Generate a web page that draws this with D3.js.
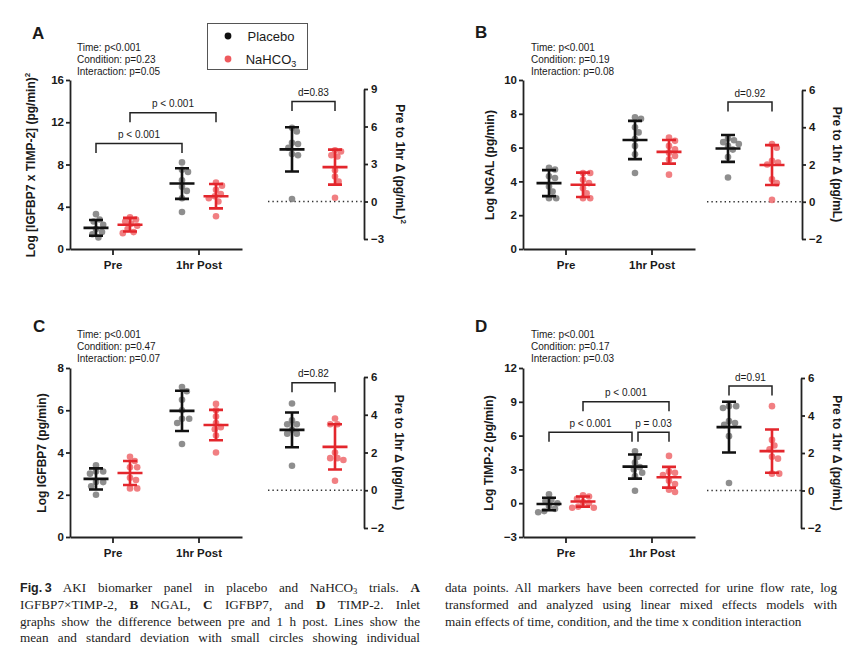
<!DOCTYPE html>
<html>
<head>
<meta charset="utf-8">
<script src="https://cdn.jsdelivr.net/npm/d3@7"></script>
<style>
body { margin: 0; background: #fff; position: relative; width: 853px; height: 653px; overflow: hidden; }
svg text { font-family: "Liberation Sans", Arial, sans-serif; fill: #1a1a1a; }
.axis path, .axis line { stroke: #222; stroke-width: 1.8px; }
.axis text { font-size: 11.5px; font-weight: bold; fill: #1a1a1a; }
.cap { position: absolute; font-family: "Liberation Serif", "Times New Roman", serif; font-size: 13.2px; color: #222; line-height: 16.8px; }
.cap .ln { text-align: justify; text-align-last: justify; height: 16.8px; }
.cap .last { text-align: left; text-align-last: left; }
.cap .fig { font-family: "Liberation Sans Narrow", "Liberation Sans", Arial, sans-serif; font-weight: bold; font-size: 12.5px; }
.cap sub { font-size: 8.5px; vertical-align: -2px; line-height: 0; }
</style>
</head>
<body>
<script>
var groups = ["Pre", "1hr Post"];
var conditions = ["Placebo", "NaHCO3"];

// A: IGFBP7 x TIMP-2
var aPoints = [
  [3.3, 2.8, 2.6, 2.3, 1.9, 1.6, 1.4, 1.1],
  [3.0, 2.8, 2.6, 2.4, 2.2, 1.9, 1.6, 1.5],
  [8.2, 7.5, 7.3, 6.5, 5.9, 5.5, 4.8, 3.5],
  [6.3, 6.0, 5.6, 5.2, 5.0, 4.8, 4.5, 3.1]
];
var aMean = [2.0, 2.3, 6.2, 5.0];
var aSd = [0.75, 0.65, 1.45, 1.15];
var aDelta = [[5.9, 5.6, 4.7, 4.6, 4.3, 3.8, 3.7, 0.2], [4.1, 4.0, 3.7, 3.6, 2.5, 2.0, 1.6, 0.3]];
var aDeltaMean = [4.17, 2.75];
var aDeltaSd = [1.77, 1.4];
var aTicks = [0, 4, 8, 12, 16];
var aDeltaTicks = [-3, 0, 3, 6, 9];
var aStats = ["Time: p<0.001", "Condition: p=0.23", "Interaction: p=0.05"];

// B: NGAL
var bPoints = [
  [4.8, 4.7, 4.3, 4.2, 3.7, 3.4, 3.0, 3.0],
  [4.5, 4.5, 4.1, 3.9, 3.6, 3.3, 3.0, 3.0],
  [7.8, 7.7, 7.2, 6.9, 6.5, 6.1, 5.6, 4.5],
  [6.6, 6.4, 6.1, 5.9, 5.7, 5.5, 5.3, 4.4]
];
var bMean = [3.9, 3.8, 6.45, 5.75];
var bSd = [0.77, 0.72, 1.13, 0.7];
var bDelta = [[3.4, 3.3, 3.2, 3.1, 3.0, 2.8, 2.4, 1.3], [3.1, 2.9, 2.2, 2.1, 2.0, 1.2, 1.0, 0.1]];
var bDeltaMean = [2.86, 1.97];
var bDeltaSd = [0.72, 1.07];
var bTicks = [0, 2, 4, 6, 8, 10];
var bDeltaTicks = [-2, 0, 2, 4, 6];
var bStats = ["Time: p<0.001", "Condition: p=0.19", "Interaction: p=0.08"];

// C: IGFBP7
var cPoints = [
  [3.4, 3.1, 3.1, 3.0, 2.6, 2.6, 2.4, 2.0],
  [3.8, 3.6, 3.3, 3.3, 2.8, 2.7, 2.3, 2.3],
  [7.1, 6.9, 6.5, 6.0, 5.6, 5.6, 5.4, 4.4],
  [6.3, 6.0, 5.7, 5.4, 5.2, 5.1, 4.8, 4.0]
];
var cMean = [2.75, 3.03, 5.97, 5.3];
var cSd = [0.5, 0.57, 0.95, 0.72];
var cDelta = [[4.6, 3.7, 3.5, 3.5, 3.2, 3.0, 3.0, 1.3], [3.8, 3.5, 3.5, 2.0, 1.7, 1.7, 1.6, 0.5]];
var cDeltaMean = [3.2, 2.3];
var cDeltaSd = [0.92, 1.2];
var cTicks = [0, 2, 4, 6, 8];
var cDeltaTicks = [-2, 0, 2, 4, 6];
var cStats = ["Time: p<0.001", "Condition: p=0.47", "Interaction: p=0.07"];

// D: TIMP-2
var dPoints = [
  [0.8, 0.3, 0.2, 0.0, -0.3, -0.5, -0.7, -0.8],
  [0.7, 0.6, 0.4, 0.1, 0.0, -0.3, -0.4, -0.4],
  [4.6, 4.1, 3.6, 3.2, 3.0, 2.7, 2.4, 1.1],
  [4.2, 2.8, 2.7, 2.5, 2.0, 1.7, 1.2, 1.0]
];
var dMean = [-0.07, 0.15, 3.25, 2.3];
var dSd = [0.55, 0.45, 1.07, 0.92];
var dDelta = [[4.5, 4.5, 4.4, 3.7, 3.6, 3.5, 2.9, 0.4], [4.5, 2.7, 2.4, 2.2, 1.8, 1.7, 0.9, 0.9]];
var dDeltaMean = [3.38, 2.1];
var dDeltaSd = [1.35, 1.15];
var dTicks = [-3, 0, 3, 6, 9, 12];
var dDeltaTicks = [-2, 0, 2, 4, 6];
var dStats = ["Time: p<0.001", "Condition: p=0.17", "Interaction: p=0.03"];

// brackets: [group, condition] -> [group, condition], level in data units
var aBrackets = [
  {from: [0, 0], to: [1, 0], level: 10.0, label: "p < 0.001"},
  {from: [0, 1], to: [1, 1], level: 12.9, label: "p < 0.001"}
];
var dBrackets = [
  {from: [0, 1], to: [1, 1], level: 9.0, label: "p < 0.001"},
  {from: [0, 0], to: [1, 0], level: 6.3, label: "p < 0.001", pad: [0, -3]},
  {from: [1, 0], to: [1, 1], level: 6.3, label: "p = 0.03", pad: [3, 0]}
];
var effects = ["d=0.83", "d=0.92", "d=0.82", "d=0.91"];
var effectLevels = [8.0, 5.35, 5.7, 5.57];

var colors = {Placebo: {dot: "#7a7a7a", line: "#111", key: "#111"}, NaHCO3: {dot: "#ef686c", line: "#e3262c", key: "#ee5a5e"}};

var App = {};

App.svg = d3.select("body").append("svg").attr("width", 853).attr("height", 653);

App.swarm = function(vals, y, cx, r) {
  var pts = vals.map(function(v) { return {v: v, py: y(v)}; })
    .sort(function(a, b) { return a.py - b.py; });
  var placed = [];
  pts.forEach(function(p) {
    var dx = null;
    for (var k = 0; k < 30 && dx === null; k++) {
      var offs = k === 0 ? [0] : [k * 1.2, -k * 1.2];
      for (var j = 0; j < offs.length; j++) {
        var ok = placed.every(function(q) { return Math.hypot(q.dx - offs[j], q.py - p.py) >= 2 * r * 0.92; });
        if (ok) { dx = offs[j]; break; }
      }
    }
    p.dx = dx;
    placed.push(p);
  });
  return pts.map(function(p) { return {x: cx + p.dx, y: p.py}; });
};

App.group = function(g, vals, mean, sd, cx, y, cond) {
  var c = colors[cond];
  g.append("g").selectAll("circle").data(App.swarm(vals, y, cx, 3.3))
    .enter().append("circle")
    .attr("cx", function(d) { return d.x; })
    .attr("cy", function(d) { return d.y; })
    .attr("r", 3.3)
    .attr("fill", c.dot)
    .attr("opacity", 0.85);
  var path = "M" + (cx - 7) + "," + y(mean + sd) + "H" + (cx + 7) +
    "M" + cx + "," + y(mean + sd) + "V" + y(mean - sd) +
    "M" + (cx - 7) + "," + y(mean - sd) + "H" + (cx + 7) +
    "M" + (cx - 12.5) + "," + y(mean) + "H" + (cx + 12.5);
  g.append("path").attr("d", path).attr("stroke", c.line).attr("stroke-width", 2.6).attr("fill", "none");
};

App.bracket = function(g, x1, x2, yb, label, leg) {
  g.append("path")
    .attr("d", "M" + x1 + "," + (yb + leg) + "V" + yb + "H" + x2 + "V" + (yb + leg))
    .attr("fill", "none").attr("stroke", "#222").attr("stroke-width", 1.5);
  g.append("text").attr("x", (x1 + x2) / 2).attr("y", yb - 5.5)
    .attr("text-anchor", "middle").attr("font-size", 10).text(label);
};

App.panel = function(p, i) {
  var g = App.svg.append("g").attr("transform", "translate(" + p.ox + "," + p.oy + ")");

  var x = d3.scaleBand().domain(groups).range([70, 242]);
  var xc = d3.scalePoint().domain(conditions).range([-17, 17]);
  var y = d3.scaleLinear().domain(d3.extent(p.ticks)).range([249, 80]);
  var cxOf = function(gi, ci) { return x(groups[gi]) + x.bandwidth() / 2 + xc(conditions[ci]); };

  g.append("g").attr("class", "axis").attr("transform", "translate(70,0)")
    .call(d3.axisLeft(y).tickValues(p.ticks).tickSize(4).tickSizeOuter(0).tickPadding(2));
  g.append("g").attr("class", "axis").attr("transform", "translate(0,249)")
    .call(d3.axisBottom(x).tickSize(6).tickSizeOuter(0).tickPadding(6));

  groups.forEach(function(gr, gi) {
    conditions.forEach(function(cond, ci) {
      var k = gi * 2 + ci;
      App.group(g, p.points[k], p.mean[k], p.sd[k], cxOf(gi, ci), y, cond);
    });
  });

  (p.brackets || []).forEach(function(b) {
    var pad = b.pad || [0, 0];
    App.bracket(g, cxOf(b.from[0], b.from[1]) + pad[0], cxOf(b.to[0], b.to[1]) + pad[1], y(b.level), b.label, 9.5);
  });

  // main y title
  var yt = g.append("text").attr("transform", "translate(" + p.titleX + ",165) rotate(-90)")
    .attr("text-anchor", "middle").attr("font-size", 12).attr("font-weight", "bold").text(p.title);
  if (p.sup) yt.append("tspan").attr("font-size", 8).attr("dy", -5).text("2");

  // inset
  var xi = d3.scalePoint().domain(conditions).range(p.insetPts);
  var yi = d3.scaleLinear().domain(d3.extent(p.dTicks)).range(p.insetRange);
  g.append("line").attr("x1", p.insetLeft).attr("x2", p.insetAxis)
    .attr("y1", yi(0)).attr("y2", yi(0))
    .attr("stroke", "#333").attr("stroke-width", 1.4).attr("stroke-dasharray", "1.4,3");
  g.append("g").attr("class", "axis").attr("transform", "translate(" + p.insetAxis + ",0)")
    .call(d3.axisRight(yi).tickValues(p.dTicks).tickSize(4).tickSizeOuter(0).tickPadding(3));
  conditions.forEach(function(cond, ci) {
    App.group(g, p.delta[ci], p.dMean[ci], p.dSd[ci], xi(cond), yi, cond);
  });
  App.bracket(g, xi(conditions[0]), xi(conditions[1]), yi(effectLevels[i]), effects[i], 9.5);

  var it = g.append("text").attr("transform", "translate(" + p.insetTitleX + "," + ((p.insetRange[0] + p.insetRange[1]) / 2) + ") rotate(90)")
    .attr("text-anchor", "middle").attr("font-size", 12).attr("font-weight", "bold").text("Pre to 1hr \u0394 (pg/mL)");
  if (p.sup) it.append("tspan").attr("font-size", 8).attr("dy", -5).text("2");

  // stats and letter
  g.append("g").selectAll("text").data(p.stats).enter().append("text")
    .attr("x", p.statsX).attr("y", function(d, j) { return p.statsY + j * 12; })
    .attr("font-size", 10).text(function(d) { return d; });
  g.append("text").attr("x", p.letter[0]).attr("y", p.letter[1])
    .attr("font-size", 17).attr("font-weight", "bold").text(p.id);
};

App.legend = function() {
  var g = App.svg.append("g");
  g.append("rect").attr("x", 207.5).attr("y", 23.5).attr("width", 100).attr("height", 46)
    .attr("fill", "#fff").attr("stroke", "#555").attr("stroke-width", 1);
  conditions.forEach(function(cond, j) {
    var yy = 36 + j * 23;
    g.append("circle").attr("cx", 228).attr("cy", yy).attr("r", 3.4).attr("fill", colors[cond].key);
    var t = g.append("text").attr("x", 271).attr("y", yy + 4.5).attr("text-anchor", "middle").attr("font-size", 13);
    if (cond === "NaHCO3") {
      t.text("NaHCO");
      t.append("tspan").attr("font-size", 9).attr("dy", 3).text("3");
    } else t.text(cond);
  });
};

var layout = [
  {id: "A", ox: 0, oy: 0, points: aPoints, mean: aMean, sd: aSd, delta: aDelta, dMean: aDeltaMean, dSd: aDeltaSd,
   ticks: aTicks, dTicks: aDeltaTicks, stats: aStats, brackets: aBrackets, sup: true,
   title: "Log [IGFBP7 x TIMP-2] (pg/min)", titleX: 35, insetTitleX: 396, insetAxis: 364, insetLeft: 268,
   insetPts: [292, 335], insetRange: [239, 89], letter: [32, 39], statsX: 77, statsY: 51},
  {id: "B", ox: 453, oy: 0, points: bPoints, mean: bMean, sd: bSd, delta: bDelta, dMean: bDeltaMean, dSd: bDeltaSd,
   ticks: bTicks, dTicks: bDeltaTicks, stats: bStats, sup: false,
   title: "Log NGAL (pg/min)", titleX: 41, insetTitleX: 380, insetAxis: 349, insetLeft: 254,
   insetPts: [275, 319], insetRange: [239, 90], letter: [22, 38], statsX: 78, statsY: 51},
  {id: "C", ox: 0, oy: 288, points: cPoints, mean: cMean, sd: cSd, delta: cDelta, dMean: cDeltaMean, dSd: cDeltaSd,
   ticks: cTicks, dTicks: cDeltaTicks, stats: cStats, sup: false,
   title: "Log IGFBP7 (pg/min)", titleX: 46, insetTitleX: 395, insetAxis: 364, insetLeft: 268,
   insetPts: [292, 335], insetRange: [240, 89], letter: [33, 44], statsX: 77, statsY: 50},
  {id: "D", ox: 453, oy: 288, points: dPoints, mean: dMean, sd: dSd, delta: dDelta, dMean: dDeltaMean, dSd: dDeltaSd,
   ticks: dTicks, dTicks: dDeltaTicks, stats: dStats, brackets: dBrackets, sup: false,
   title: "Log TIMP-2 (pg/min)", titleX: 40, insetTitleX: 380, insetAxis: 348, insetLeft: 254,
   insetPts: [276, 319], insetRange: [240, 90], letter: [22, 44], statsX: 78, statsY: 50}
];

layout.forEach(App.panel);
App.legend();

// caption
var capLeft = [
  '<b class="fig">Fig.\u202f3</b> AKI biomarker panel in placebo and NaHCO<sub>3</sub> trials. <b>A</b>',
  'IGFBP7\u00d7TIMP-2, <b>B</b> NGAL, <b>C</b> IGFBP7, and <b>D</b> TIMP-2. Inlet',
  'graphs show the difference between pre and 1 h post. Lines show the',
  'mean and standard deviation with small circles showing individual'
];
var capRight = [
  'data points. All markers have been corrected for urine flow rate, log',
  'transformed and analyzed using linear mixed effects models with',
  'main effects of time, condition, and the time x condition interaction'
];
function caption(lines, left, width, lastLeft) {
  var box = d3.select("body").append("div").attr("class", "cap")
    .style("left", left + "px").style("top", "580px").style("width", width + "px");
  box.selectAll("div").data(lines).enter().append("div")
    .attr("class", function(d, j) { return "ln" + (lastLeft && j === lines.length - 1 ? " last" : ""); })
    .html(function(d) { return d; });
}
caption(capLeft, 20, 400, false);
caption(capRight, 445, 392, true);
</script>
</body>
</html>
